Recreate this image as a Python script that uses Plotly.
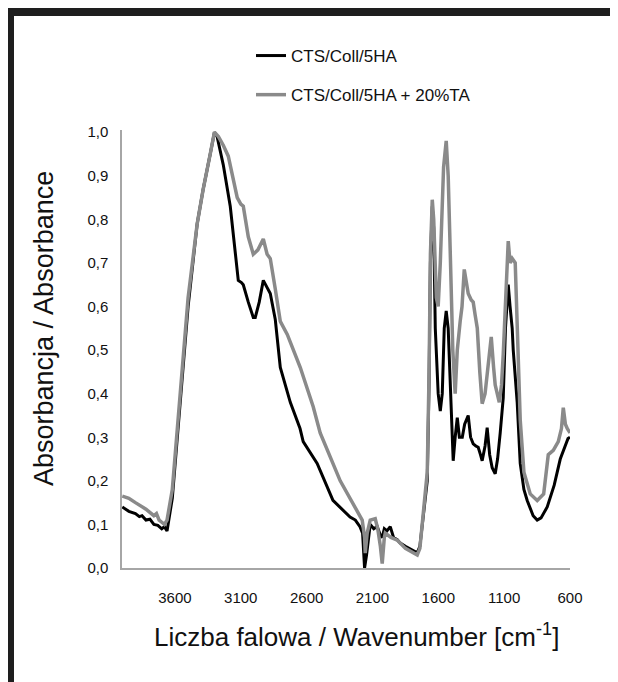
import plotly.graph_objects as go

# ---- data ----
wn_black = [4000, 3950, 3900, 3870, 3850, 3820, 3790, 3760, 3730, 3700, 3680, 3660,
            3620, 3560, 3500, 3431, 3385, 3332, 3300, 3280, 3233, 3180, 3142, 3119,
            3095, 3081, 3043, 3005, 2990, 2960, 2929, 2900, 2876, 2838, 2800, 2724,
            2650, 2626, 2520, 2400, 2270, 2230, 2195, 2175, 2160, 2145, 2117, 2090,
            2064, 2040, 2026, 2010, 1990, 1965, 1940, 1912, 1889, 1850, 1790, 1760,
            1740, 1700, 1684, 1670, 1660, 1646, 1635, 1623, 1601, 1585, 1570, 1555,
            1540, 1525, 1509, 1495, 1487, 1472, 1456, 1440, 1418, 1400, 1373, 1355,
            1335, 1315, 1297, 1280, 1267, 1245, 1229, 1210, 1191, 1168, 1150, 1130,
            1107, 1090, 1069, 1055, 1039, 1031, 1016, 1001, 978, 950, 925, 880,
            849, 820, 773, 720, 674, 640, 615, 600]
abs_black = [0.140, 0.130, 0.125, 0.118, 0.120, 0.110, 0.112, 0.100, 0.098, 0.090, 0.095, 0.085,
             0.160, 0.380, 0.600, 0.790, 0.870, 0.950, 1.000, 0.990, 0.925, 0.830, 0.720, 0.660,
             0.655, 0.650, 0.610, 0.575, 0.575, 0.610, 0.660, 0.645, 0.630, 0.570, 0.460, 0.380,
             0.320, 0.290, 0.240, 0.155, 0.117, 0.110, 0.095, 0.080, 0.000, 0.030, 0.100, 0.090,
             0.095, 0.075, 0.070, 0.090, 0.085, 0.095, 0.070, 0.065, 0.057, 0.050, 0.041, 0.035,
             0.050, 0.150, 0.200, 0.430, 0.700, 0.830, 0.780, 0.550, 0.400, 0.360, 0.400, 0.550,
             0.590, 0.550, 0.410, 0.300, 0.246, 0.300, 0.345, 0.300, 0.300, 0.330, 0.350, 0.300,
             0.285, 0.280, 0.277, 0.260, 0.246, 0.280, 0.322, 0.260, 0.230, 0.216, 0.250, 0.310,
             0.390, 0.550, 0.650, 0.600, 0.550, 0.500, 0.440, 0.380, 0.240, 0.180, 0.155, 0.120,
             0.110, 0.115, 0.140, 0.190, 0.250, 0.280, 0.297, 0.300]

wn_gray = [4000, 3950, 3900, 3870, 3850, 3820, 3800, 3780, 3760, 3740, 3720, 3700, 3680, 3660,
           3620, 3560, 3500, 3431, 3385, 3332, 3300, 3270, 3233, 3195, 3160, 3127, 3100, 3081,
           3043, 3005, 2970, 2929, 2900, 2876, 2838, 2800, 2747, 2648, 2550, 2497, 2345, 2216,
           2178, 2160, 2155, 2140, 2117, 2079, 2060, 2040, 2026, 2010, 2003, 1960, 1912, 1850,
           1790, 1760, 1740, 1700, 1684, 1670, 1660, 1646, 1635, 1615, 1601, 1585, 1560, 1540,
           1525, 1509, 1490, 1472, 1456, 1434, 1420, 1403, 1390, 1373, 1350, 1335, 1320, 1304,
           1285, 1267, 1245, 1229, 1198, 1180, 1168, 1137, 1120, 1107, 1085, 1069, 1055, 1039,
           1016, 1001, 978, 950, 902, 849, 800, 765, 727, 689, 665, 651, 635, 621, 606, 600]
abs_gray = [0.165, 0.160, 0.150, 0.145, 0.140, 0.135, 0.130, 0.125, 0.120, 0.125, 0.110, 0.105, 0.100, 0.110,
            0.180, 0.400, 0.620, 0.790, 0.870, 0.950, 1.000, 0.990, 0.970, 0.945, 0.900, 0.850, 0.835, 0.830,
            0.760, 0.720, 0.730, 0.755, 0.720, 0.710, 0.640, 0.566, 0.536, 0.460, 0.370, 0.310, 0.200, 0.133,
            0.110, 0.070, 0.034, 0.080, 0.110, 0.113, 0.090, 0.050, 0.010, 0.070, 0.080, 0.070, 0.064, 0.045,
            0.035, 0.030, 0.045, 0.160, 0.220, 0.450, 0.720, 0.845, 0.800, 0.620, 0.600, 0.700, 0.920, 0.980,
            0.900, 0.720, 0.500, 0.400, 0.500, 0.566, 0.600, 0.685, 0.660, 0.630, 0.615, 0.610, 0.580, 0.550,
            0.450, 0.377, 0.400, 0.445, 0.530, 0.460, 0.420, 0.380, 0.420, 0.490, 0.650, 0.750, 0.700, 0.710,
            0.700, 0.550, 0.340, 0.220, 0.170, 0.155, 0.170, 0.260, 0.270, 0.290, 0.320, 0.368, 0.330, 0.320, 0.310, 0.310]

series_names = ["CTS/Coll/5HA", "CTS/Coll/5HA + 20%TA"]
x_tick_vals = [3600, 3100, 2600, 2100, 1600, 1100, 600]
x_tick_text = ["3600", "3100", "2600", "2100", "1600", "1100", "600"]
y_tick_vals = [0.0, 0.1, 0.2, 0.3, 0.4, 0.5, 0.6, 0.7, 0.8, 0.9, 1.0]
y_tick_text = ["0,0", "0,1", "0,2", "0,3", "0,4", "0,5", "0,6", "0,7", "0,8", "0,9", "1,0"]

FONT = "Arial, Liberation Sans, sans-serif"

# page is offset by the default 8px body margin; plot area spans page x 122..570, y 130..568
def px(xp):
    return (xp - 122) / 448

def py(yp):
    return (568 - yp) / 438

fig = go.Figure()
fig.add_trace(go.Scatter(x=wn_black, y=abs_black, mode="lines", name=series_names[0],
                         line=dict(color="#000000", width=3), legendgroup="a"))
fig.add_trace(go.Scatter(x=wn_gray, y=abs_gray, mode="lines", name=series_names[1],
                         line=dict(color="#8a8a8a", width=3.5), legendgroup="b"))

fig.update_layout(
    width=610, height=674,
    margin=dict(l=114, r=48, t=122, b=114),
    paper_bgcolor="white", plot_bgcolor="white",
    font=dict(family=FONT, color="#111111", size=15),
    showlegend=True,
    legend=dict(x=px(251), y=py(38), xanchor="left", yanchor="top",
                bgcolor="rgba(0,0,0,0)", font=dict(size=17, family=FONT, color="#111111"),
                tracegroupgap=14, itemwidth=30),
    xaxis=dict(range=[4002, 600], autorange=False, tickvals=x_tick_vals, ticktext=x_tick_text,
               showgrid=False, zeroline=False, showline=True, linecolor="#a6a6a6", linewidth=1.5,
               ticks="", ticklabelstandoff=15, tickfont=dict(size=15, family=FONT)),
    yaxis=dict(range=[0, 1.005], autorange=False, tickvals=y_tick_vals, ticktext=y_tick_text,
               showgrid=False, zeroline=False, showline=True, linecolor="#a6a6a6", linewidth=1.5,
               ticks="", ticklabelstandoff=9, tickfont=dict(size=15, family=FONT)),
    shapes=[dict(type="rect", xref="paper", yref="paper",
                 x0=px(10), x1=px(614),
                 y0=py(700), y1=py(12),
                 line=dict(color="#1e1e1e", width=8), fillcolor="rgba(0,0,0,0)", layer="above")],
    annotations=[
        dict(text="Absorbancja / Absorbance", xref="paper", yref="paper",
             x=px(44), y=py(329), showarrow=False, textangle=-90,
             xanchor="center", yanchor="middle", font=dict(size=27, family=FONT, color="#111111")),
        dict(text="Liczba falowa / Wavenumber [cm<sup>-1</sup>]", xref="paper", yref="paper",
             x=px(356), y=py(635), showarrow=False,
             xanchor="center", yanchor="middle", font=dict(size=26, family=FONT, color="#111111")),
    ],
)

fig.write_html("out.html")
